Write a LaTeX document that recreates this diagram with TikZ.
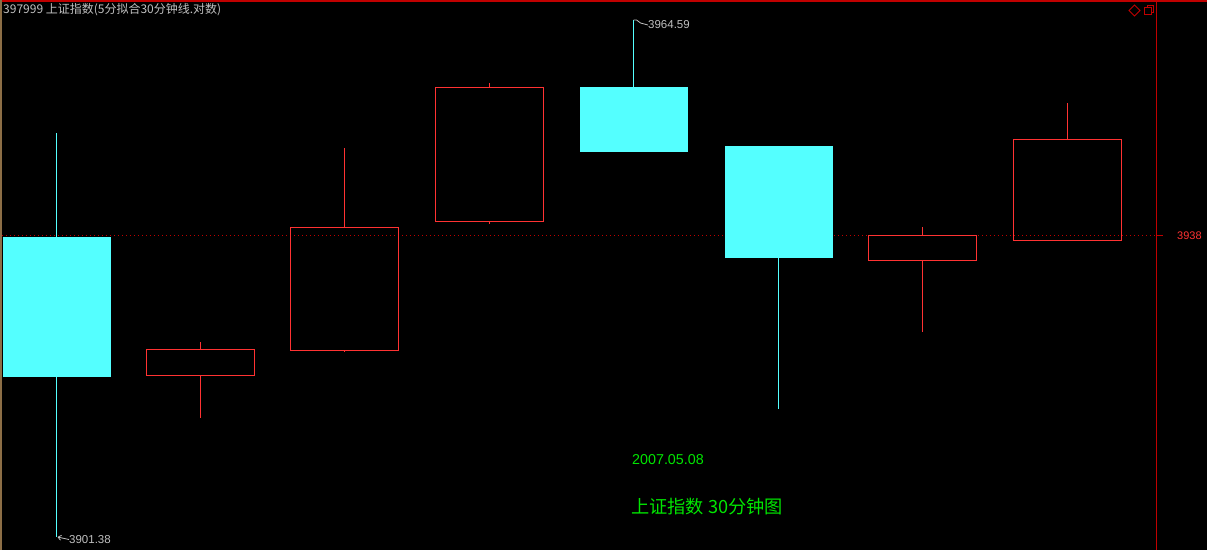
\documentclass[tikz,border=0pt]{standalone}
\usepackage{fontspec}
\setmainfont{Liberation Sans}
\newfontfamily\cjk{Noto Sans CJK SC}
\usetikzlibrary{arrows.meta}
\definecolor{upred}{HTML}{FF3232}
\definecolor{dncyan}{HTML}{54FFFF}
\definecolor{framered}{HTML}{C00000}
\definecolor{edgebrown}{HTML}{8C6E46}
\definecolor{labelgray}{HTML}{C0C0C0}
\definecolor{txtgreen}{HTML}{00E600}
\newcommand\kbar[6]{%
  \draw[#6wick] (#1,#2) -- (#1,#3);
  \draw[#6wick] (#1,#4) -- (#1,#5);
  \path[#6box] (#1-54,#3) rectangle (#1+54,#4);}
\tikzset{
  upwick/.style={draw=upred,line width=1pt},
  dnwick/.style={draw=dncyan,line width=1pt},
  upbox/.style={draw=upred,line width=1pt},
  dnbox/.style={fill=dncyan},
  pricelbl/.style={text=labelgray,font=\fontsize{11.5}{12}\selectfont,inner sep=0pt,anchor=west},
  framebar/.style={draw=framered,line width=1.5pt},
}
\begin{document}
\begin{tikzpicture}[x=1pt,y=-1pt]
\fill[black] (0,0) rectangle (1207,550);
\useasboundingbox (0,0) rectangle (1207,550);
% frame
\draw[framebar] (0,0.75) -- (1207,0.75);
\draw[framebar] (1156.5,0) -- (1156.5,550);
\draw[draw=edgebrown,line width=1.5pt] (0.75,0) -- (0.75,550);
% reference level
\draw[draw=framered,line width=1pt,dash pattern=on 1pt off 3pt] (2,235.5) -- (1156,235.5);
\draw[draw=framered,line width=1pt] (1156,235.5) -- (1163,235.5);
\node[text=upred,font=\fontsize{11}{12}\selectfont,inner sep=0pt,anchor=west] (lvl) at (1177,235.5) {3938};
% candles
\kbar{56.5}{133}{237}{377}{537}{dn}
\kbar{200.5}{342}{349.5}{375.5}{418}{up}
\kbar{344.5}{148}{227.5}{350.5}{351}{up}
\kbar{489.5}{83}{87.5}{221.5}{224}{up}
\kbar{633.5}{20}{87}{152}{152}{dn}
\kbar{778.5}{146}{146}{258}{409}{dn}
\kbar{922.5}{227}{235.5}{260.5}{332}{up}
\kbar{1067.5}{103}{139.5}{240.5}{240.5}{up}
% price labels
\coordinate (hi) at (633.5,20);
\coordinate (lo) at (57.5,537);
\node[pricelbl] (hilbl) at (648,25) {3964.59};
\node[pricelbl] (lolbl) at (69,539.5) {3901.38};
\draw[labelgray,line width=0.8pt] (hi) -- ++(3,0) -- ++(4,3) -- (hilbl.west);
\draw[labelgray,line width=0.8pt,-{Straight Barb[length=3pt,width=5pt]}] (lolbl.west) -- (lo);
% title
\node[text=labelgray,font=\cjk\fontsize{12}{14}\selectfont,inner sep=0pt,anchor=west] (title) at (3,10) {397999 上证指数(5分拟合30分钟线.对数)};
% icons
\draw[framered,line width=0.8pt] (1134.5,5) -- (1140,10.5) -- (1134.5,16) -- (1129,10.5) -- cycle;
\draw[framered,line width=1pt] (1147,5.5) rectangle (1153.5,12);
\filldraw[fill=black,draw=framered,line width=1pt] (1144.5,7.5) rectangle (1151.5,14.5);
% green captions
\node[text=txtgreen,font=\fontsize{14.3}{16}\selectfont,inner sep=0pt,anchor=west] (date) at (632,460) {2007.05.08};
\node[text=txtgreen,font=\cjk\fontsize{18.2}{20}\selectfont,inner sep=0pt,anchor=west] (cap) at (631,507) {上证指数 30分钟图};
\end{tikzpicture}
\end{document}
